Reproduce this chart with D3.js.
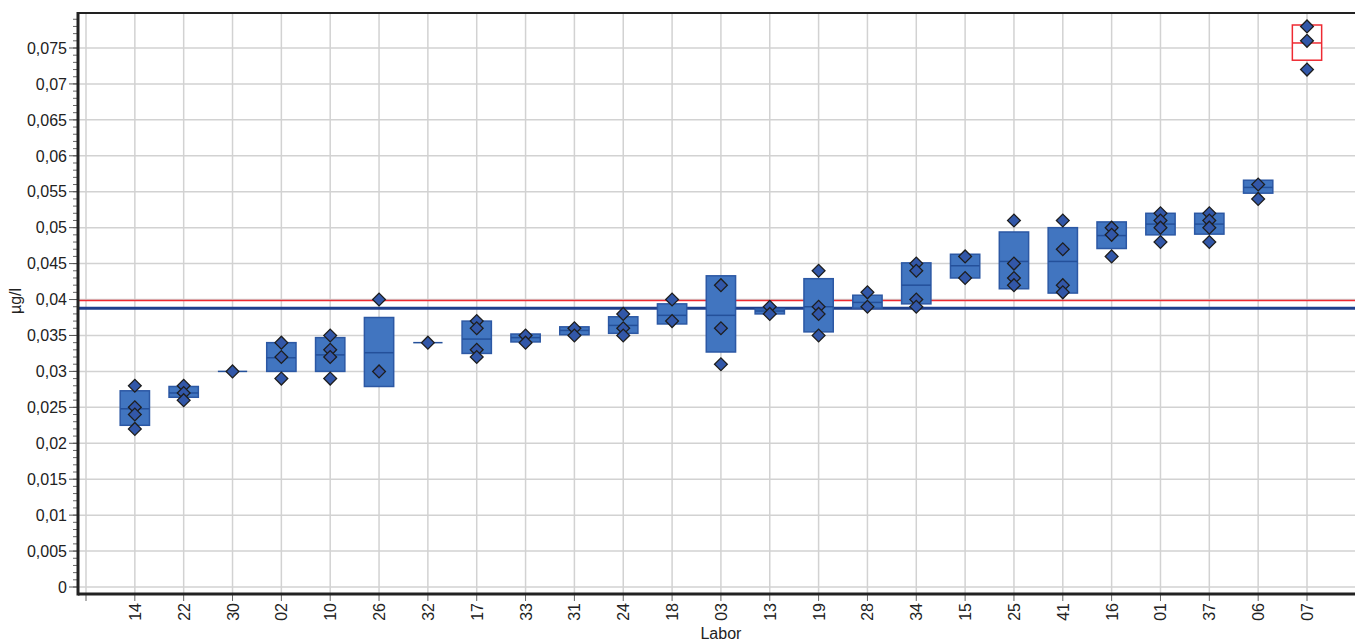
<!DOCTYPE html>
<html lang="de">
<head>
  <meta charset="UTF-8">
  <title>Labor</title>
  <style>
    body { margin: 0; background: #fff; }
    text { font-family: "Liberation Sans", Arial, sans-serif; fill: #222; }
  </style>
</head>
<body>
  <script src="https://d3js.org/d3.v7.min.js"></script>
  <script>

    const labs = ['14', '22', '30', '02', '10', '26', '32', '17', '33', '31', '24', '18', '03',
      '13', '19', '28', '34', '15', '25', '41', '16', '01', '37', '06', '07']

    // single results per lab (diamonds)
    const results = [
      [0.028, 0.025, 0.024, 0.022],
      [0.028, 0.027, 0.026],
      [0.030],
      [0.034, 0.032, 0.029],
      [0.035, 0.033, 0.032, 0.029],
      [0.040, 0.030],
      [0.034],
      [0.037, 0.036, 0.033, 0.032],
      [0.035, 0.034],
      [0.036, 0.035],
      [0.038, 0.036, 0.035],
      [0.040, 0.037],
      [0.042, 0.036, 0.031],
      [0.039, 0.038],
      [0.044, 0.039, 0.038, 0.035],
      [0.041, 0.039],
      [0.045, 0.044, 0.040, 0.039],
      [0.046, 0.043],
      [0.051, 0.045, 0.043, 0.042],
      [0.051, 0.047, 0.042, 0.041],
      [0.050, 0.049, 0.046],
      [0.052, 0.051, 0.050, 0.048],
      [0.052, 0.051, 0.050, 0.048],
      [0.056, 0.054],
      [0.078, 0.076, 0.072]
    ]

    const boxLow = [0.0225, 0.0264, 0.030, 0.0300, 0.0300, 0.0279, 0.034, 0.0325, 0.0341, 0.0351,
      0.0353, 0.0366, 0.0327, 0.0380, 0.0355, 0.0388, 0.0394, 0.0430, 0.0415, 0.0409, 0.0471,
      0.0490, 0.0491, 0.0548, 0.0733]
    const boxHigh = [0.0273, 0.0279, 0.030, 0.0340, 0.0347, 0.0375, 0.034, 0.0370, 0.0352, 0.0362,
      0.0376, 0.0394, 0.0433, 0.0387, 0.0429, 0.0406, 0.0451, 0.0463, 0.0494, 0.0500, 0.0508,
      0.0520, 0.0520, 0.0566, 0.0782]
    const medians = [0.0248, 0.0270, 0.030, 0.0319, 0.0323, 0.0326, 0.034, 0.0345, 0.0347, 0.0357,
      0.0364, 0.0378, 0.0378, 0.0384, 0.0390, 0.0396, 0.0420, 0.0447, 0.0453, 0.0453, 0.0489,
      0.0505, 0.0505, 0.0556, 0.0757]
    const outlierLabs = ['07']

    const refValue = 0.040
    const meanValue = 0.0388

    const yTicks = d3.range(0, 0.0751, 0.005)
    const yMinor = d3.range(0, 0.0795, 0.001)

    const W = 1355, H = 641
    const plotLeft = 78, plotTop = 13, plotBottom = 594

    const svg = d3.select('body')
      .append('svg')
      .attr('width', W)
      .attr('height', H)

    // position 0 is an empty slot, labs sit at 1..25
    const x = d3.scaleLinear().domain([0, 25]).range([86, 1307])
    const y = d3.scaleLinear().domain([0, 0.075]).range([587, 48])
    const boxW = x(0.6) - x(0)

    const fmt = d => d3.format('.3~f')(d).replace('.', ',')

    // grid
    svg.append('g')
      .selectAll('line')
      .data(yTicks)
      .join('line')
      .attr('x1', plotLeft).attr('x2', W)
      .attr('y1', d => y(d)).attr('y2', d => y(d))
      .attr('stroke', '#d2d2d2').attr('stroke-width', 1.5)

    svg.append('g')
      .selectAll('line')
      .data(d3.range(0, 26))
      .join('line')
      .attr('x1', d => x(d)).attr('x2', d => x(d))
      .attr('y1', plotTop).attr('y2', plotBottom)
      .attr('stroke', '#d2d2d2').attr('stroke-width', 1.5)

    // reference and mean lines
    const yRef = Math.round(y(refValue)) + 0.5
    svg.append('line')
      .attr('x1', plotLeft).attr('x2', W)
      .attr('y1', yRef).attr('y2', yRef)
      .attr('stroke', '#ee2a32').attr('stroke-width', 1.5)

    svg.append('line')
      .attr('x1', plotLeft).attr('x2', W)
      .attr('y1', y(meanValue)).attr('y2', y(meanValue))
      .attr('stroke', '#1f3f8c').attr('stroke-width', 3)

    // boxes
    const boxes = svg.append('g')
      .selectAll('g')
      .data(labs)
      .join('g')
      .attr('transform', (d, i) => `translate(${x(i + 1)},0)`)

    boxes.append('rect')
      .attr('x', -boxW / 2)
      .attr('width', boxW)
      .attr('y', (d, i) => y(boxHigh[i]))
      .attr('height', (d, i) => y(boxLow[i]) - y(boxHigh[i]))
      .attr('fill', d => outlierLabs.includes(d) ? '#fff' : '#4175c0')
      .attr('stroke', d => outlierLabs.includes(d) ? '#ee2a32' : '#2c58a4')
      .attr('stroke-width', 1.5)

    boxes.append('line')
      .attr('x1', -boxW / 2).attr('x2', boxW / 2)
      .attr('y1', (d, i) => y(medians[i])).attr('y2', (d, i) => y(medians[i]))
      .attr('stroke', d => outlierLabs.includes(d) ? '#ee2a32' : '#24509a')
      .attr('stroke-width', 1.5)

    const diamond = d3.symbol(d3.symbolSquare, 82)

    boxes.selectAll('path')
      .data((d, i) => results[i])
      .join('path')
      .attr('d', diamond)
      .attr('transform', d => `translate(0,${y(d)}) rotate(45)`)
      .attr('fill', '#3257a8')
      .attr('stroke', '#1e1e1e')
      .attr('stroke-width', 1.3)

    // frame top
    svg.append('line')
      .attr('x1', plotLeft).attr('x2', W)
      .attr('y1', plotTop).attr('y2', plotTop)
      .attr('stroke', '#222').attr('stroke-width', 2)

    // y axis
    svg.append('g')
      .selectAll('line')
      .data(yMinor)
      .join('line')
      .attr('x1', plotLeft - 5).attr('x2', plotLeft)
      .attr('y1', d => y(d)).attr('y2', d => y(d))
      .attr('stroke', '#666').attr('stroke-width', 1)

    const yAxis = svg.append('g')
      .selectAll('g')
      .data(yTicks)
      .join('g')
      .attr('transform', d => `translate(0,${y(d)})`)

    yAxis.append('line')
      .attr('x1', plotLeft - 9).attr('x2', plotLeft)
      .attr('stroke', '#555').attr('stroke-width', 1)

    yAxis.append('text')
      .attr('x', plotLeft - 11)
      .attr('dy', '0.36em')
      .attr('text-anchor', 'end')
      .attr('font-size', 16)
      .text(fmt)

    // x axis
    const xAxis = svg.append('g')
      .selectAll('g')
      .data(d3.range(0, 26))
      .join('g')
      .attr('transform', d => `translate(${x(d)},0)`)

    xAxis.append('line')
      .attr('y1', plotBottom).attr('y2', plotBottom + 7)
      .attr('stroke', '#666').attr('stroke-width', 1)

    xAxis.filter(d => d > 0)
      .append('text')
      .attr('transform', `translate(6,${plotBottom + 9}) rotate(-90)`)
      .attr('text-anchor', 'end')
      .attr('font-size', 16)
      .text(d => labs[d - 1])

    svg.append('line')
      .attr('x1', plotLeft).attr('x2', W)
      .attr('y1', plotBottom).attr('y2', plotBottom)
      .attr('stroke', '#222').attr('stroke-width', 3)

    svg.append('line')
      .attr('x1', plotLeft).attr('x2', plotLeft)
      .attr('y1', plotTop - 1).attr('y2', plotBottom + 1.5)
      .attr('stroke', '#222').attr('stroke-width', 3)

    // titles
    svg.append('text')
      .attr('x', x(13)).attr('y', 639)
      .attr('text-anchor', 'middle')
      .attr('font-size', 16)
      .text('Labor')

    svg.append('text')
      .attr('transform', `translate(21,301) rotate(-90)`)
      .attr('text-anchor', 'middle')
      .attr('font-size', 16)
      .text('µg/l')

  </script>
</body>
</html>
